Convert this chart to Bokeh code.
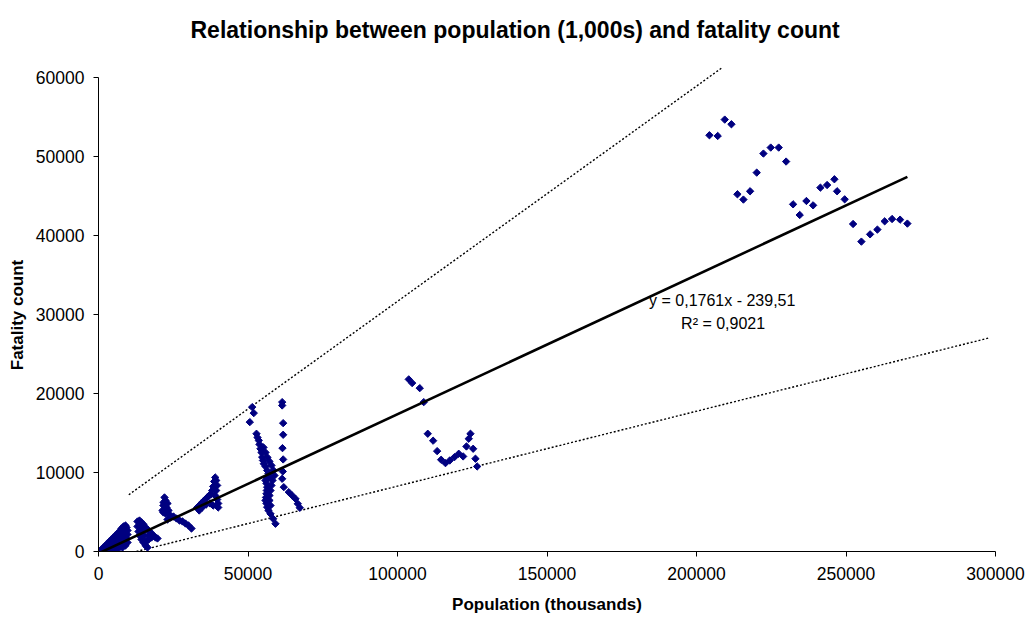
import numpy as np
from bokeh.plotting import figure
from bokeh.models import Range1d, FixedTicker, BasicTickFormatter, Label
from bokeh.embed import file_html
from bokeh.resources import INLINE

# ---------------- data (population in thousands, fatality count) ----------------
pop_small = [330, 1000, 1670, 2340, 3010, 3680, 4350, 5020, 5690, 6350, 7020, 7690, 8360, 9030,
             9360, 9700, 9700, 9360, 9700, 9030, 8030, 6690, 5350, 4010, 2680,
             4680, 6020, 7360, 8360, 8690, 7690, 6350, 5020, 3680, 7360, 8690, 6690, 5690, 8030, 9030]
fat_small = [30, 250, 510, 760, 1010, 1270, 1520, 1770, 2030, 2280, 2530, 2910, 3170, 3290,
             3040, 2660, 2150, 1650, 1140, 760, 510, 380, 250, 130, 130,
             890, 1270, 1650, 2030, 2530, 2150, 1650, 1140, 630, 1010, 1270, 760, 630, 2530, 2790]

pop_mid1 = [13040, 13710, 14380, 15050, 15720, 16390, 17050, 17720, 18390, 19060, 19730,
            13040, 13380, 13710, 14380, 15050, 15720, 16390, 16050, 14710, 15380, 16720, 17720, 17050, 14040, 15380]
fat_mid1 = [3800, 3920, 3670, 3420, 3040, 2790, 2530, 2280, 2030, 1770, 1650,
            3170, 2530, 2030, 1520, 1140, 760, 510, 1270, 2660, 2030, 1520, 1770, 2030, 3040, 2910]

pop_mid2 = [21400, 21700, 22070, 22400, 21740, 23070, 22740, 23410, 21700, 22400, 23740, 24080,
            25080, 26080, 27090, 28090, 29090, 30100, 31100, 23070]
fat_mid2 = [5190, 5820, 6840, 6460, 6200, 6080, 5570, 5190, 4940, 4810, 4680, 4300,
            4430, 4180, 3920, 3800, 3540, 3290, 2910, 4050]

pop_mid3 = [33010, 33680, 34340, 35010, 35680, 36350, 37020, 37690, 38020, 38360, 38690, 39030,
            39360, 39690, 39360, 39030, 39690, 40030, 40030, 38360, 37350, 36020, 34680, 33680]
fat_mid3 = [5570, 5820, 6080, 6330, 6580, 6840, 7090, 7220, 7720, 8230, 8860, 9370,
            8990, 8360, 7720, 7090, 6580, 6080, 5570, 5820, 6080, 5950, 5570, 5190]

pop_eu1 = [51400, 51930, 50600, 52840, 53170, 53600, 53840, 54170, 54510, 54740, 55010, 55280,
           55850, 56410, 56850, 57280, 56510, 55850, 56180, 56410, 56280, 56180, 56010, 55850,
           56180, 56410, 56850, 57520, 58420, 59190]
fat_eu1 = [18270, 17510, 16370, 14900, 14430, 14050, 13550, 13000, 12530, 11940, 11520, 11100,
           10760, 10260, 9880, 9410, 9240, 8990, 8610, 8140, 7720, 7310, 6840, 6460,
           6080, 5610, 5190, 4770, 4140, 3510]

pop_eu2 = [55180, 55850, 56510, 57180, 57850, 58520, 58850, 58190, 57850, 57520, 57180, 57180, 57520]
fat_eu2 = [13170, 12530, 11900, 11390, 10890, 10260, 9620, 8990, 8360, 7720, 7090, 6460, 5820]

pop_eu3 = [61430, 61430, 61760, 61760, 61530, 61760, 61630, 61430, 61970, 63640, 64770, 65880, 66650, 67320]
fat_eu3 = [18900, 18480, 16240, 14770, 13080, 11650, 10130, 9200, 8140, 7510, 7090, 6670, 6040, 5530]

pop_asia = [103760, 104900, 107440, 108780, 110120, 111920, 113260, 114600, 116040, 117480,
            119050, 120480, 121960, 123060, 124400, 123830, 125300, 126070, 126640]
fat_asia = [21780, 21310, 20670, 18900, 14900, 14020, 12700, 11610, 11180, 11520,
            11940, 12370, 12030, 13290, 14900, 14270, 13000, 11740, 10760]

pop_us = [204320, 207090, 209440, 211680, 213680, 215690, 217930, 220140, 222380, 224820,
          227490, 229970, 232310, 234520, 236760, 239000, 241440, 243680, 246120, 247020,
          249560, 252370, 255150, 258060, 260500, 262940, 265410, 268090, 270530]
fat_us = [52670, 52580, 54650, 54060, 45200, 44530, 45580, 47940, 50350, 51110,
          51110, 49340, 43930, 42580, 44350, 43800, 46040, 46370, 47100, 45580,
          44560, 41440, 39210, 40130, 40730, 41780, 42070, 41990, 41490]

# linear trend (from the chart's equation) and dotted guide lines
trend_slope = 0.1761
trend_intercept = -239.51
upper_guide_x = [10130, 208500]
upper_guide_y = [7180, 61200]
lower_guide_x = [12700, 297620]
lower_guide_y = [0, 27000]

x_ticks = [0, 50000, 100000, 150000, 200000, 250000, 300000]
y_ticks = [0, 10000, 20000, 30000, 40000, 50000, 60000]

title_text = "Relationship between population (1,000s) and fatality count"
x_title = "Population (thousands)"
y_title = "Fatality count"
eq_text = "y = 0,1761x - 239,51"
r2_text = "R\u00b2 = 0,9021"

FONT = "Liberation Sans"

# ---------------- figure ----------------
p = figure(width=1027, height=619, x_range=Range1d(0, 300000), y_range=Range1d(0, 62000),
           output_backend="svg", toolbar_location=None,
           min_border_left=98, min_border_right=32, min_border_top=61, min_border_bottom=68)
p.outline_line_color = None
p.grid.visible = False
p.background_fill_color = "white"
p.border_fill_color = "white"

p.title.text = title_text
p.title.text_font = FONT
p.title.text_font_size = "23px"
p.title.text_font_style = "bold"
p.title.text_color = "black"
p.title.align = "left"
p.title.offset = 92
p.title.vertical_align = "top"
p.title.standoff = 33

for ax in (p.xaxis[0], p.yaxis[0]):
    ax.axis_line_color = "black"
    ax.axis_line_width = 1
    ax.major_tick_line_color = "black"
    ax.major_tick_out = 5
    ax.major_tick_in = 0
    ax.minor_tick_line_color = None
    ax.major_label_text_font = FONT
    ax.major_label_text_font_size = "17.5px"
    ax.major_label_text_color = "black"
    ax.axis_label_text_font = FONT
    ax.axis_label_text_font_size = "17px"
    ax.axis_label_text_font_style = "bold"
    ax.axis_label_text_color = "black"
    ax.formatter = BasicTickFormatter(use_scientific=False)

p.xaxis.ticker = FixedTicker(ticks=x_ticks)
p.yaxis.ticker = FixedTicker(ticks=y_ticks)
p.yaxis.bounds = (0, 60000)
p.xaxis.major_label_standoff = 10
p.yaxis.major_label_standoff = 9
p.xaxis.axis_label = x_title
p.xaxis.axis_label_standoff = 12
# two trailing en-spaces shift the visible label to the centre of the 0-60000 axis
p.yaxis.axis_label = y_title + "\u2002\u2002"
p.yaxis.axis_label_standoff = 6

# guide lines
p.line(upper_guide_x, upper_guide_y, line_color="black", line_width=1.4, line_dash="2 2")
p.line(lower_guide_x, lower_guide_y, line_color="black", line_width=1.4, line_dash="2 2")

# scatter points
all_pop = (pop_small + pop_mid1 + pop_mid2 + pop_mid3 + pop_eu1 + pop_eu2 + pop_eu3
           + pop_asia + pop_us)
all_fat = (fat_small + fat_mid1 + fat_mid2 + fat_mid3 + fat_eu1 + fat_eu2 + fat_eu3
           + fat_asia + fat_us)
p.scatter(all_pop, all_fat, marker="square", angle=np.pi / 4, size=5.2,
          fill_color="#000080", line_color="#000080", line_width=1)

# trend line over the data extent
tx = np.array([min(all_pop), max(all_pop)], dtype=float)
p.line(tx, trend_slope * tx + trend_intercept, line_color="black", line_width=2.6)

# trend equation texts
p.add_layout(Label(x=208600, y=31700, text=eq_text, text_align="center", text_baseline="middle",
                   text_font=FONT, text_font_size="16px", text_color="black"))
p.add_layout(Label(x=208900, y=28900, text=r2_text, text_align="center", text_baseline="middle",
                   text_font=FONT, text_font_size="16px", text_color="black"))

open("out.html", "w").write(file_html(p, INLINE))
